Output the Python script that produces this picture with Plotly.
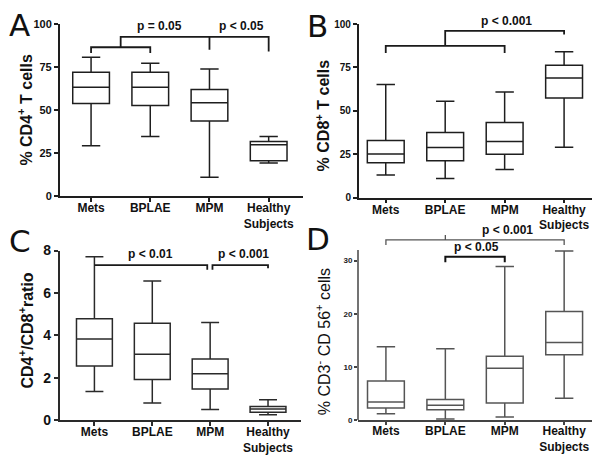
import plotly.graph_objects as go

# ---------------- data ----------------
groups = ["Mets", "BPLAE", "MPM", "Healthy<br>Subjects"]

cd4_low = [29.3, 34.6, 11.0, 19.3]
cd4_q1 = [53.8, 52.7, 43.6, 20.6]
cd4_med = [63.2, 63.2, 54.2, 29.9]
cd4_q3 = [72.0, 72.0, 61.9, 31.8]
cd4_high = [80.7, 77.2, 73.8, 34.6]

cd8_low = [13.1, 11.1, 16.3, 29.1]
cd8_q1 = [20.2, 21.3, 25.0, 57.4]
cd8_med = [25.2, 28.9, 32.4, 68.9]
cd8_q3 = [33.0, 37.6, 43.3, 76.3]
cd8_high = [65.2, 55.6, 60.9, 84.1]

ratio_low = [1.35, 0.80, 0.50, 0.25]
ratio_q1 = [2.55, 1.91, 1.47, 0.37]
ratio_med = [3.82, 3.10, 2.19, 0.52]
ratio_q3 = [4.78, 4.57, 2.88, 0.64]
ratio_high = [7.71, 6.56, 4.60, 0.96]

nk_low = [1.2, 0.18, 0.6, 4.1]
nk_q1 = [2.25, 1.94, 3.2, 12.3]
nk_med = [3.39, 2.79, 9.75, 14.6]
nk_q3 = [7.33, 3.88, 12.0, 20.4]
nk_high = [13.8, 13.4, 28.9, 31.8]

y_ticks_ab = [0, 25, 50, 75, 100]
y_ticks_c = [0, 2, 4, 6, 8]
y_ticks_d = [0, 10, 20, 30]

panel_titles = ["% CD4<sup>+</sup> T cells", "% CD8<sup>+</sup> T cells",
                "CD4<sup>+</sup>/CD8<sup>+</sup>ratio",
                "% CD3<sup>-</sup> CD 56<sup>+</sup> cells"]

# ---------------- figure ----------------
W, H = 600, 458
FONT = "Liberation Sans, Arial, sans-serif"
xpos = list(range(len(groups)))

fig = go.Figure()

panels = [
    dict(ax="", lo=cd4_low, q1=cd4_q1, md=cd4_med, q3=cd4_q3, hi=cd4_high, col="#1e1e1e"),
    dict(ax="2", lo=cd8_low, q1=cd8_q1, md=cd8_med, q3=cd8_q3, hi=cd8_high, col="#1e1e1e"),
    dict(ax="3", lo=ratio_low, q1=ratio_q1, md=ratio_med, q3=ratio_q3, hi=ratio_high, col="#2a2a2a"),
    dict(ax="4", lo=nk_low, q1=nk_q1, md=nk_med, q3=nk_q3, hi=nk_high, col="#555555"),
]

for p in panels:
    fig.add_trace(go.Box(
        x=xpos, q1=p["q1"], median=p["md"], q3=p["q3"],
        lowerfence=p["lo"], upperfence=p["hi"],
        xaxis="x" + p["ax"], yaxis="y" + p["ax"],
        width=0.62, whiskerwidth=0.5, boxpoints=False,
        line=dict(color=p["col"], width=1.5), fillcolor="rgba(255,255,255,0)",
        showlegend=False, hoverinfo="skip"))

def px_dom(a, b, total):
    return [a / total, b / total]

def ydom(top_px, bot_px):
    return [1 - bot_px / H, 1 - top_px / H]

axis_common = dict(showgrid=False, zeroline=False, ticks="outside",
                   tickwidth=1.5, linewidth=1.5)
xlab_font = dict(size=12, family=FONT, color="#111", weight="bold")

fig.update_layout(
    xaxis=dict(domain=px_dom(51.7, 295, W), range=[-0.53, 3.58], tickvals=xpos, ticktext=groups,
               showline=True, linecolor="#1e1e1e", tickcolor="#1e1e1e", anchor="y", ticklen=4,
               ticklabelstandoff=-4, tickfont=xlab_font, **axis_common),
    yaxis=dict(domain=ydom(8.3, 186.7), range=[0, 100], tickvals=y_ticks_ab, anchor="x", ticklen=4,
               showline=True, linecolor="#1e1e1e", tickcolor="#1e1e1e",
               tickfont=dict(size=11, family=FONT, color="#111", weight="bold"), **axis_common),
    xaxis2=dict(domain=px_dom(350.7, 587, W), range=[-0.455, 3.52], tickvals=xpos, ticktext=groups,
                showline=True, linecolor="#1e1e1e", tickcolor="#1e1e1e", anchor="y2", ticklen=4,
                ticklabelstandoff=-4, tickfont=xlab_font, **axis_common),
    yaxis2=dict(domain=ydom(8.3, 188.3), range=[0, 100], tickvals=y_ticks_ab, anchor="x2", ticklen=4,
                showline=True, linecolor="#1e1e1e", tickcolor="#1e1e1e",
                tickfont=dict(size=10, family=FONT, color="#111", weight="bold"), **axis_common),
    xaxis3=dict(domain=px_dom(51.7, 293, W), range=[-0.6, 3.57], tickvals=xpos, ticktext=groups,
                showline=True, linecolor="#2a2a2a", tickcolor="#2a2a2a", anchor="y3", ticklen=4,
                ticklabelstandoff=-4, tickfont=xlab_font, **axis_common),
    yaxis3=dict(domain=ydom(243, 418.7), range=[0, 8], tickvals=y_ticks_c, anchor="x3", ticklen=4,
                showline=True, linecolor="#2a2a2a", tickcolor="#2a2a2a",
                tickfont=dict(size=14, family=FONT, color="#111", weight="bold"), **axis_common),
    xaxis4=dict(domain=px_dom(350, 593, W), range=[-0.47, 3.62], tickvals=xpos, ticktext=groups,
                showline=True, linecolor="#444", tickcolor="#444", anchor="y4", ticklen=3,
                ticklabelstandoff=-4, tickfont=xlab_font, **axis_common),
    yaxis4=dict(domain=ydom(418.7 - 36 * 5.51, 418.7), range=[0, 36], tickvals=y_ticks_d, anchor="x4",
                showline=False, tickcolor="#444", ticklen=3,
                tickfont=dict(size=8, family=FONT, color="#222", weight="bold"), **axis_common),
)

# D y-axis line only up to 32
fig.add_shape(type="line", xref="paper", yref="y4", x0=350 / W, x1=350 / W, y0=0, y1=32,
              line=dict(color="#444", width=1.5))

# ---------------- significance brackets ----------------
def bracket(path, xr, yr, color="#1a1a1a", width=1.8):
    fig.add_shape(type="path", path=path, xref=xr, yref=yr, line=dict(color=color, width=width))

# A
bracket("M 0,83.2 V 86.5 H 1 V 83.2", "x", "y")
bracket("M 0.5,86.5 V 92.5 H 3 V 84.1 M 2,92.5 V 85", "x", "y")
# B
bracket("M 0,83.3 V 87.4 H 2 V 83.3 M 1,87.4 V 96.1 H 3 V 94", "x2", "y2")
# C
bracket("M 0,7.31 H 1.95 V 7.09 M 2.04,7.09 V 7.31 H 3 V 7.16", "x3", "y3")
# D
bracket("M 0,32.9 V 33.9 H 3 V 32.9 M 1,33.9 V 34.8", "x4", "y4", color="#555", width=1.3)
bracket("M 1,29.7 V 30.7 H 2 V 29.7", "x4", "y4", color="#111", width=2)

ann_font = dict(size=12, family=FONT, color="#111", weight="bold")
pvals = [
    ("p = 0.05", "x", "y", 1.15, 93.8),
    ("p < 0.05", "x", "y", 2.54, 93.8),
    ("p < 0.001", "x2", "y2", 2.03, 96.8),
    ("p < 0.01", "x3", "y3", 0.97, 7.42),
    ("p < 0.001", "x3", "y3", 2.57, 7.42),
    ("p < 0.001", "x4", "y4", 2.04, 34.0),
    ("p < 0.05", "x4", "y4", 1.52, 30.9),
]
for t, xr, yr, xv, yv in pvals:
    fig.add_annotation(text=t, xref=xr, yref=yr, x=xv, y=yv, xanchor="center", yanchor="bottom",
                       showarrow=False, font=ann_font)

# ---------------- axis titles ----------------
title_pos = [(17, 97, True), (315, 103, True), (18, 326, True), (315, 338, False)]
for txt, (xp, yp, bold) in zip(panel_titles, title_pos):
    fig.add_annotation(text=txt, xref="paper", yref="paper", x=xp / W, y=1 - yp / H,
                       xanchor="center", yanchor="middle", textangle=-90, showarrow=False,
                       font=dict(size=16, family=FONT, color="#111",
                                 weight="bold" if bold else "normal"))

# ---------------- panel letters ----------------
letters = [("A", 0, 9), ("B", 298, 10), ("C", 0, 233), ("D", 297, 231)]
for L, xp, yp in letters:
    fig.add_annotation(text=L, xref="paper", yref="paper", x=xp / W, y=1 - yp / H,
                       xanchor="left", yanchor="middle", showarrow=False, borderpad=0,
                       font=dict(size=31, family="DejaVu Sans, sans-serif", color="#111"))

fig.update_layout(width=W, height=H, margin=dict(l=0, r=0, t=0, b=0),
                  paper_bgcolor="white", plot_bgcolor="white")

fig.write_html("out.html")
